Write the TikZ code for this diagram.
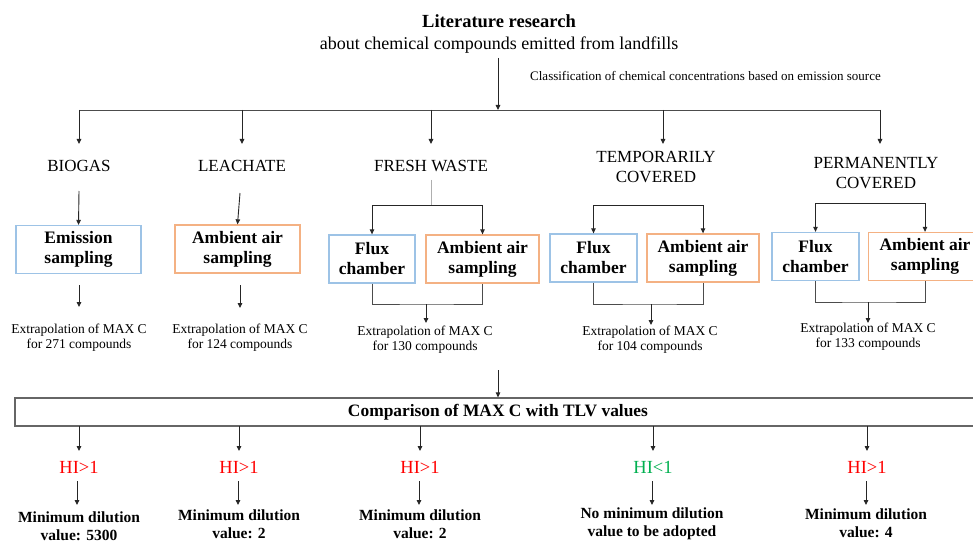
\documentclass[tikz,border=0pt]{standalone}
\usepackage{fontspec}
\setmainfont{Liberation Serif}
\usetikzlibrary{arrows.meta}
\definecolor{boxblue}{RGB}{157,195,230}
\definecolor{boxorange}{RGB}{244,177,131}
\definecolor{hired}{RGB}{255,0,0}
\definecolor{higreen}{RGB}{0,176,80}
\definecolor{softgray}{RGB}{175,175,175}
\tikzset{
 arr/.style={draw=black!85, line width=0.9pt, -{Triangle[length=5pt,width=4.5pt]}},
 ln/.style={draw=black!70, line width=0.9pt},
 cat/.style={font=\rmfamily\fontsize{17}{20}\selectfont, align=center, inner sep=0pt},
 sbox/.style={draw, line width=1.3pt, font=\rmfamily\bfseries\fontsize{17.5}{20}\selectfont, align=center, inner sep=0pt, minimum height=48pt},
 bluebox/.style={sbox, draw=boxblue},
 orangebox/.style={sbox, draw=boxorange},
 extra/.style={font=\rmfamily\fontsize{13.5}{15}\selectfont, align=center, inner sep=0pt},
 hi/.style={font=\rmfamily\fontsize{18.5}{20}\selectfont, inner sep=0pt},
 dil/.style={font=\rmfamily\bfseries\fontsize{15.5}{17.5}\selectfont, align=center, inner sep=0pt},
}
\begin{document}
\begin{tikzpicture}[x=1pt,y=-1pt]
\clip (0,0) rectangle (973,540);
\fill[white] (0,0) rectangle (973,540);
% title
\node[font=\rmfamily\fontsize{18}{21}\selectfont, align=center, inner sep=0pt] (title) at (499,34) {{\fontsize{18.5}{21}\selectfont\textbf{Literature research}}\\about chemical compounds emitted from landfills};
\node[font=\rmfamily\fontsize{13}{15}\selectfont, anchor=west, inner sep=0pt] (classif) at (530,76) {Classification of chemical concentrations based on emission source};
\coordinate (tstart) at (498,58);
\coordinate (bus) at (498,110);
\draw[arr] (tstart) -- (bus);
\coordinate (busL) at (79,110);
\coordinate (busR) at (880,110);
\draw[ln] (busL) -- (busR);
% categories
\node[cat] (biogas) at (79,166) {BIOGAS};
\node[cat] (leach) at (242,166) {LEACHATE};
\node[cat] (fresh) at (431,166) {FRESH WASTE};
\node[cat] (temp) at (656,167) {TEMPORARILY\\COVERED};
\node[cat] (perm) at (876,173) {PERMANENTLY\\COVERED};
\foreach \x/\n in {79/biogas,242/leach,431/fresh,663/temp,880/perm}{
  \coordinate (top\n) at (\x,110);
  \coordinate (end\n) at (\x,144);
  \draw[arr] (top\n) -- (end\n);
}
% boxes
\node[bluebox, minimum width=125pt] (emis) at (78.5,249.5) {Emission\\sampling};
\node[orangebox, minimum width=125pt] (laas) at (237.5,249) {Ambient air\\sampling};
\node[bluebox, minimum width=86pt] (fflux) at (372,259) {Flux\\chamber};
\node[orangebox, minimum width=113pt] (famb) at (482.5,259) {Ambient air\\sampling};
\node[bluebox, minimum width=87pt] (tflux) at (593.5,258) {Flux\\chamber};
\node[orangebox, minimum width=112pt] (tamb) at (703,258) {Ambient air\\sampling};
\node[bluebox, minimum width=87pt] (pflux) at (815.5,256.5) {Flux\\chamber};
\node[orangebox, minimum width=113pt] (pamb) at (925,256.5) {Ambient air\\sampling};
% biogas / leachate arrows
\coordinate (b1) at (79,191); \draw[arr] (b1) -- (emis.north);
\coordinate (l1) at (240,193); \draw[arr] (l1) -- (laas.north);
% split connectors
\draw[ln, draw=softgray] (fresh.south) ++(0,8) coordinate (fs) -- (431,205);
\draw[arr] (431,205) -| (fflux.north);
\draw[arr] (431,205) -| (famb.north);
\coordinate (tsplit) at (650,205);
\draw[arr] (tsplit) -| (tflux.north);
\draw[arr] (tsplit) -| (tamb.north);
\coordinate (psplit) at (870,203);
\draw[arr] (psplit) -| (pflux.north);
\draw[arr] (psplit) -| (pamb.north);
% extrapolation texts
\node[extra] (eb) at (79,338) {Extrapolation of MAX C\\for 271 compounds};
\node[extra] (el) at (240,338) {Extrapolation of MAX C\\for 124 compounds};
\node[extra] (ef) at (425,340) {Extrapolation of MAX C\\for 130 compounds};
\node[extra] (et) at (650,340) {Extrapolation of MAX C\\for 104 compounds};
\node[extra] (ep) at (868,337) {Extrapolation of MAX C\\for 133 compounds};
\coordinate (eb0) at (79,285); \coordinate (eb1) at (79,307); \draw[arr] (eb0) -- (eb1);
\coordinate (el0) at (240,285); \coordinate (el1) at (240,308); \draw[arr] (el0) -- (el1);
% merge connectors
\coordinate (fm) at (426,304);
\draw[ln] (fflux.south) |- (fm) -| (famb.south);
\coordinate (fm1) at (426,323); \draw[arr] (fm) -- (fm1);
\coordinate (tm) at (651,304);
\draw[ln] (tflux.south) |- (tm) -| (tamb.south);
\coordinate (tm1) at (651,325); \draw[arr] (tm) -- (tm1);
\coordinate (pm) at (868,302);
\draw[ln] (pflux.south) |- (pm) -| (pamb.south);
\coordinate (pm1) at (868,323); \draw[arr] (pm) -- (pm1);
% comparison
\node[draw=black!60, line width=1.2pt, minimum width=966pt, minimum height=28pt, inner sep=0pt, font=\rmfamily\bfseries\fontsize{17.4}{20}\selectfont] (comp) at (498,412) {Comparison of MAX C with TLV values};
\coordinate (c0) at (498,370);
\draw[arr] (c0) -- (comp.north);
% HI
\node[hi, text=hired] (h1) at (79,467) {HI>1};
\node[hi, text=hired] (h2) at (239,467) {HI>1};
\node[hi, text=hired] (h3) at (420,467) {HI>1};
\node[hi, text=higreen] (h4) at (653,467) {HI<1};
\node[hi, text=hired] (h5) at (867,467) {HI>1};
\foreach \x/\n in {79/h1,239/h2,420/h3,653/h4,867/h5}{
  \coordinate (ct\n) at (\x,426);
  \coordinate (hi\n) at (\x,451);
  \draw[arr] (ct\n) -- (hi\n);
}
% dilution
\node[dil] (d1) at (79,526) {Minimum dilution\\value: 5300};
\node[dil] (d2) at (239,524) {Minimum dilution\\value: 2};
\node[dil] (d3) at (420,524) {Minimum dilution\\value: 2};
\node[dil] (d4) at (652,524) {No minimum dilution\\value to be adopted};
\node[dil] (d5) at (866,523) {Minimum dilution\\value: 4};
\foreach \x/\n in {77/d1,238/d2,419/d3,652/d4,866/d5}{
  \coordinate (ds\n) at (\x,481);
  \coordinate (de\n) at (\x,505);
  \draw[arr] (ds\n) -- (de\n);
}
\end{tikzpicture}
\end{document}
